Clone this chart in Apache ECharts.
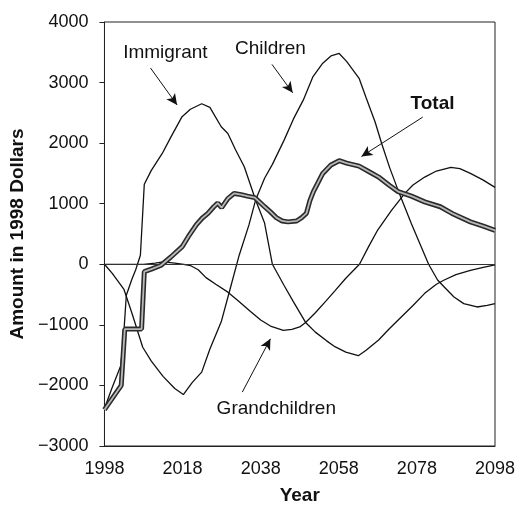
<!DOCTYPE html>
<html>
<head>
<meta charset="utf-8">
<script src="https://cdn.jsdelivr.net/npm/echarts@6/dist/echarts.min.js"></script>
<style>
html,body{margin:0;padding:0;background:#fff;}
#chart{width:519px;height:515px;}
</style>
</head>
<body>
<div id="chart"></div>
<script>
// ---- data ----
const xTicks = [1998, 2018, 2038, 2058, 2078, 2098];
const yTicks = [-3000, -2000, -1000, 0, 1000, 2000, 3000, 4000];

const immigrant = [
  [1998,-2380],[2000,-2030],[2002.2,-1670],[2003,-1090],[2003.6,-510],[2005,-250],[2006,-90],
  [2007.2,150],[2008.2,1320],[2010,1550],[2012.8,1830],[2015,2100],[2017.8,2430],[2020,2560],
  [2022.9,2650],[2025,2590],[2027.9,2270],[2029.6,2160],[2031.5,1900],[2033.8,1610],[2036.7,1060],
  [2039,680],[2041,0],[2044,-350],[2046.4,-620],[2049.5,-960],[2052,-1120],[2054.8,-1260],
  [2057,-1360],[2059.8,-1450],[2063,-1510],[2065,-1420],[2068.2,-1250],[2071,-1060],[2074,-870],
  [2077,-680],[2080,-480],[2083,-330],[2085,-260],[2088,-170],[2091.7,-100],[2095,-50],[2098,-10]
];

const children = [
  [1998,0],[2000,-150],[2003,-415],[2005,-800],[2007.8,-1370],[2010,-1600],[2013,-1850],
  [2016,-2050],[2018.2,-2150],[2020.5,-1950],[2022.9,-1780],[2025,-1400],[2027.9,-950],
  [2030,-450],[2032.5,150],[2035,650],[2036.7,1060],[2039,1420],[2041,1650],[2044,2050],
  [2046.4,2400],[2048.9,2710],[2051.4,3100],[2053.9,3320],[2056,3440],[2058.1,3480],
  [2060,3350],[2063.2,3070],[2065,2750],[2067.3,2350],[2069,1990],[2071,1600],[2073.2,1220],
  [2076.6,670],[2081,0],[2083.3,-260],[2085,-375],[2087.5,-540],[2090,-650],[2093.4,-705],
  [2096,-680],[2098,-650]
];

const grandchildren = [
  [1998,0],[2008,0],[2011,20],[2013,40],[2016,20],[2018.3,0],[2020,-20],[2022,-90],[2024,-220],
  [2026.5,-330],[2029.6,-460],[2032,-590],[2035.4,-780],[2038,-920],[2040.5,-1020],[2043.8,-1090],
  [2046,-1075],[2048,-1035],[2049.5,-960],[2052,-800],[2054.8,-600],[2057,-440],[2059.8,-230],
  [2063.3,0],[2065.7,300],[2068,570],[2071.5,890],[2074.9,1170],[2077,1310],[2080,1440],
  [2083,1540],[2086.7,1600],[2089,1580],[2091.7,1500],[2095,1390],[2098,1270]
];

const total = [
  [1998,-2400],[2002.3,-2000],[2003.2,-1070],[2007.5,-1070],[2008.2,-120],[2010,-80],[2012.4,-20],
  [2015,120],[2017.9,290],[2019.5,460],[2021.5,650],[2023,760],[2024.5,840],[2026,950],
  [2027,1010],[2028,935],[2029.6,1085],[2031.2,1170],[2033,1150],[2034.6,1125],[2036.5,1100],
  [2039,950],[2040.5,865],[2042,770],[2043.5,715],[2045,700],[2047.2,715],[2048.5,770],
  [2049.7,840],[2050.6,1050],[2051.5,1200],[2053.9,1500],[2056,1640],[2058.1,1710],[2060,1670],
  [2063.2,1620],[2066,1520],[2068.2,1440],[2071,1300],[2073.2,1200],[2076.6,1125],[2080,1030],
  [2084,950],[2087,840],[2091.7,700],[2095,630],[2098,560]
];

// annotations: [labelText, labelPos, arrowFrom, arrowTo, bold]
const annotations = [
  ['Immigrant', [2013.6, 3500], [2009.8, 3240], [2016.6, 2630], false],
  ['Children', [2040.5, 3550], [2040.9, 3300], [2046.2, 2830], false],
  ['Total', [2082, 2650], [2079.5, 2430], [2063.8, 1780], true],
  ['Grandchildren', [2042, -2380], [2033.3, -2110], [2040.5, -1230], false]
];

const FONT = 'Liberation Sans, Arial, Helvetica, sans-serif';
const chart = echarts.init(document.getElementById('chart'), null, {renderer: 'canvas'});

function thin(name, data) {
  return {
    name, type: 'line', data, showSymbol: false, smooth: false,
    lineStyle: {color: '#111', width: 1.3}, z: 3, silent: true
  };
}

const option = {
  animation: false,
  backgroundColor: '#fff',
  grid: {left: 98, right: 24, top: 22, bottom: 69, show: true, borderColor: '#222', borderWidth: 1},
  xAxis: {
    type: 'value', min: 1998, max: 2098, interval: 20,
    name: 'Year', nameLocation: 'middle', nameGap: 40,
    nameTextStyle: {fontFamily: FONT, fontSize: 19, fontWeight: 'bold', color: '#111'},
    axisLine: {show: true, onZero: false, lineStyle: {color: '#222', width: 1}},
    axisTick: {show: false},
    splitLine: {show: false},
    axisLabel: {fontFamily: FONT, fontSize: 18, color: '#111', margin: 14,
      customValues: xTicks, formatter: v => String(v)}
  },
  yAxis: {
    type: 'value', min: -3000, max: 4000, interval: 1000,
    name: 'Amount in 1998 Dollars', nameLocation: 'middle', nameGap: 70, nameRotate: 90,
    nameTextStyle: {fontFamily: FONT, fontSize: 19, fontWeight: 'bold', color: '#111'},
    axisLine: {show: true, onZero: false, lineStyle: {color: '#222', width: 1}},
    axisTick: {show: true, length: 5, lineStyle: {color: '#222'}},
    splitLine: {show: false},
    axisLabel: {fontFamily: FONT, fontSize: 18, color: '#111', margin: 16,
      customValues: yTicks, formatter: v => String(v).replace('-', '\u2212')}
  },
  series: [
    {
      name: 'zero', type: 'line', data: [], silent: true,
      markLine: {
        silent: true, symbol: ['none', 'none'], label: {show: false},
        lineStyle: {color: '#333', width: 1, type: 'solid'},
        data: [{yAxis: 0}]
      }
    },
    thin('Immigrant', immigrant),
    thin('Children', children),
    thin('Grandchildren', grandchildren),
    {
      name: 'Total outline', type: 'line', data: total, showSymbol: false, silent: true,
      lineStyle: {color: '#2a2a2a', width: 5}, z: 4
    },
    {
      name: 'Total', type: 'line', data: total, showSymbol: false, silent: true,
      lineStyle: {color: '#b8b8b8', width: 1.8}, z: 5
    },
    {
      name: 'annotations', type: 'line', data: [], silent: true, z: 6,
      markLine: {
        silent: true, symbol: ['none', 'arrow'], symbolSize: [8, 11],
        label: {show: false},
        lineStyle: {color: '#111', width: 1, type: 'solid'},
        data: annotations.map(a => [{coord: a[2]}, {coord: a[3]}])
      },
      markPoint: {
        silent: true, symbol: 'circle', symbolSize: 0,
        data: annotations.map(a => ({
          coord: a[1], value: a[0],
          label: {show: true, position: 'inside', formatter: a[0],
            fontFamily: FONT, fontSize: 19, fontWeight: a[4] ? 'bold' : 'normal', color: '#111'}
        }))
      }
    }
  ]
};
chart.setOption(option);
</script>
</body>
</html>
